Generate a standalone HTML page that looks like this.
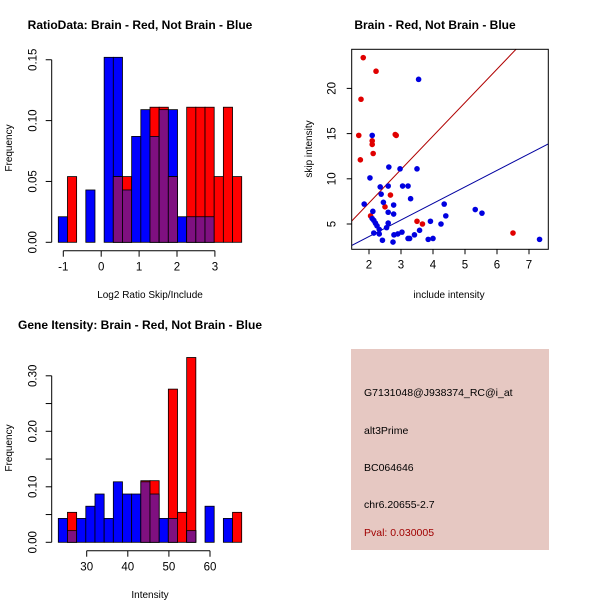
<!DOCTYPE html>
<html><head><meta charset="utf-8"><style>
body{margin:0;background:#fff;}
svg{display:block;font-family:"Liberation Sans",sans-serif;}
</style></head><body>
<svg id="c" width="600" height="600" xmlns="http://www.w3.org/2000/svg">
<rect x="351" y="349" width="198" height="201" fill="#e6c8c2"/>
<g font-size="10.5" fill="#000">
<text x="364" y="396">G7131048@J938374_RC@i_at</text>
<text x="364" y="434">alt3Prime</text>
<text x="364" y="471">BC064646</text>
<text x="364" y="508">chr6.20655-2.7</text>
<text x="364" y="536" fill="#a00000">Pval: 0.030005</text>
</g>
</svg>
<script>
// Histogram 1 (ratio)
const h1Blue=[0.021,0,0,0.043,0,0.152,0.152,0.043,0.087,0.109,0.087,0.109,0.109,0.021,0.021,0.021,0.021,0,0,0];
const h1Red=[0,0.054,0,0,0,0,0.054,0.054,0,0,0.111,0.111,0.054,0,0.111,0.111,0.111,0.054,0.111,0.054];
const h1XTicks=[-1,0,1,2,3];
const h1YTicks=[0,0.05,0.10,0.15];
// Histogram 2 (intensity)
const h2Blue=[0.043,0.021,0.043,0.065,0.087,0.043,0.109,0.087,0.087,0.109,0.087,0.043,0.043,0,0.021,0,0.065,0,0.043,0];
const h2Red=[0,0.054,0,0,0,0,0,0,0,0.111,0.111,0,0.276,0.054,0.333,0,0,0,0,0.054];
const h2XTicks=[30,40,50,60];
const h2YTicks=[0,0.05,0.10,0.15,0.20,0.25,0.30];
const h2YLabels=["0.00","","0.10","","0.20","","0.30"];
// Scatter
const redX=[1.82,2.22,1.75,1.68,2.1,2.1,1.73,2.13,2.82,2.85,2.67,2.5,2.05,3.5,3.67,6.5];
const redY=[23.4,21.9,18.8,14.8,14.2,13.8,12.1,12.8,14.9,14.8,8.2,6.9,5.9,5.3,5.0,4.0];
const blueX=[3.55,2.1,2.62,2.97,3.5,2.03,2.35,2.6,3.05,3.22,2.38,3.3,1.85,2.45,2.77,4.35,2.12,2.6,2.77,5.32,5.53,4.4,2.1,2.15,2.2,2.25,2.6,2.55,2.32,3.92,4.25,3.58,2.15,2.32,2.78,2.9,3.03,3.42,2.42,2.75,3.22,3.27,3.85,4.0,7.33];
const blueY=[21,14.8,11.3,11.1,11.1,10.1,9.1,9.2,9.2,9.2,8.3,7.8,7.2,7.4,7.1,7.2,6.4,6.3,6.1,6.6,6.2,5.9,5.6,5.4,5.1,4.8,5.1,4.6,4.4,5.3,5.0,4.3,4.0,3.9,3.8,3.9,4.1,3.8,3.2,3.0,3.4,3.4,3.3,3.4,3.3];
const redFit=[-0.07,3.7];
const blueFit=[-0.05,1.83];
const scXTicks=[2,3,4,5,6,7];
const scYTicks=[5,10,15,20];

const svg=document.getElementById('c');
const NS='http://www.w3.org/2000/svg';
function mk(tag,attrs,parent){const e=document.createElementNS(NS,tag);for(const k in attrs)e.setAttribute(k,attrs[k]);(parent||svg).appendChild(e);return e;}
function txt(x,y,s,attrs){const e=mk('text',Object.assign({x:x,y:y},attrs||{}));e.textContent=s;return e;}

function hist(opts){
  const g=mk('g',{});
  
  
  const xs=v=>opts.x0px+(v-opts.xref)*opts.xpx;
  const ys=v=>opts.y0px-v*opts.ypx;
  const bw=opts.binPx;
  for(let i=0;i<opts.blue.length;i++){
    const xl=opts.startPx+i*bw, b=opts.blue[i], r=opts.red[i];
    if(b>0){const e=mk('rect',{x:xl,y:ys(b),width:bw,height:ys(0)-ys(b),fill:'#0000ff',stroke:'#000','stroke-width':0.8},g);
      }
    if(r>0){const e=mk('rect',{x:xl,y:ys(r),width:bw,height:ys(0)-ys(r),fill:'#ff0000',stroke:'#000','stroke-width':0.8},g);
      }
    if(b>0&&r>0){const m=Math.min(b,r);const e=mk('rect',{x:xl,y:ys(m),width:bw,height:ys(0)-ys(m),fill:'#7f1080',stroke:'#000','stroke-width':0.8},g);
      }
  }
  const ax=mk('g',{stroke:'#000','stroke-width':1},g);
  
  const t=opts.xticks, ay=opts.xAxisY;
  mk('line',{x1:xs(t[0]),x2:xs(t[t.length-1]),y1:ay,y2:ay},ax);
  t.forEach(v=>{mk('line',{x1:xs(v),x2:xs(v),y1:ay,y2:ay+6},ax);
    const l=txt(xs(v),ay+20,String(v),{'font-size':11.5,'text-anchor':'middle',stroke:'none'});
    });
  const ay2=mk('g',{stroke:'#000','stroke-width':1},g);
  
  const yt=opts.yticks, axx=opts.yAxisX;
  mk('line',{x1:axx,x2:axx,y1:ys(yt[0]),y2:ys(yt[yt.length-1])},ay2);
  yt.forEach((v,i)=>{mk('line',{x1:axx,x2:axx-6,y1:ys(v),y2:ys(v)},ay2);
    const s=opts.ylabels?opts.ylabels[i]:v.toFixed(2);
    const xx=axx-15;
    if(s){const l=txt(xx,ys(v),s,{'font-size':11.5,'text-anchor':'middle',stroke:'none',transform:`rotate(-90 ${xx} ${ys(v)})`});
      }});
}
hist({name:'ratio-histogram',blue:h1Blue,red:h1Red,x0px:63.3,xref:-1,xpx:37.9,y0px:242.3,ypx:1217,startPx:58.3,binPx:9.17,xticks:h1XTicks,yticks:h1YTicks,xAxisY:250.7,yAxisX:51.7});
hist({name:'intensity-histogram',blue:h2Blue,red:h2Red,x0px:86.7,xref:30,xpx:4.11,y0px:542.3,ypx:555,startPx:58.3,binPx:9.17,xticks:h2XTicks,yticks:h2YTicks,ylabels:h2YLabels,xAxisY:550.7,yAxisX:51.7});

const sx=v=>369+(v-2)*32, sy=v=>224-(v-5)*9.04;
const box={l:351.7,r:548.3,t:49.3,b:249.3};
const sg=mk('g',{});

mk('defs',{}).innerHTML='<clipPath id="clp"><rect x="351.7" y="49.3" width="196.6" height="200"/></clipPath>';
function fitLine(f,col,name){
  const x1=1.4,x2=7.7;
  const e=mk('line',{x1:sx(x1),y1:sy(f[0]+f[1]*x1),x2:sx(x2),y2:sy(f[0]+f[1]*x2),stroke:col,'stroke-width':1,'clip-path':'url(#clp)'},sg);
  
}
fitLine(redFit,'#b00000','red-fit-line');
fitLine(blueFit,'#0000a0','blue-fit-line');
redX.forEach((x,i)=>{const e=mk('circle',{cx:sx(x),cy:sy(redY[i]),r:2.8,fill:'#e00000'},sg);
  });
blueX.forEach((x,i)=>{const e=mk('circle',{cx:sx(x),cy:sy(blueY[i]),r:2.8,fill:'#0000e0'},sg);
  });
const fr=mk('rect',{x:box.l,y:box.t,width:box.r-box.l,height:box.b-box.t,fill:'none',stroke:'#000','stroke-width':1},sg);

scXTicks.forEach(v=>{mk('line',{x1:sx(v),x2:sx(v),y1:box.b,y2:box.b+5,stroke:'#000'},sg);
  const l=txt(sx(v),box.b+19,String(v),{'font-size':11.5,'text-anchor':'middle'});
  });
scYTicks.forEach(v=>{mk('line',{x1:box.l,x2:box.l-5,y1:sy(v),y2:sy(v),stroke:'#000'},sg);
  const xx=box.l-16;const l=txt(xx,sy(v),String(v),{'font-size':11.5,'text-anchor':'middle',transform:`rotate(-90 ${xx} ${sy(v)})`});
  });

function lab(x,y,s,name,attrs){const e=txt(x,y,s,attrs);}
lab(140,29,'RatioData: Brain - Red, Not Brain - Blue','title-ratio',{'font-size':12,'font-weight':'bold','text-anchor':'middle'});
lab(435,29,'Brain - Red, Not Brain - Blue','title-scatter',{'font-size':12,'font-weight':'bold','text-anchor':'middle'});
lab(140,329,'Gene Itensity: Brain - Red, Not Brain - Blue','title-intensity',{'font-size':12,'font-weight':'bold','text-anchor':'middle'});
lab(150,298,'Log2 Ratio Skip/Include','x-axis-title-ratio',{'font-size':10,'text-anchor':'middle'});
lab(449,298,'include intensity','x-axis-title-scatter',{'font-size':10,'text-anchor':'middle'});
lab(150,598,'Intensity','x-axis-title-intensity',{'font-size':10,'text-anchor':'middle'});
lab(12,148,'Frequency','y-axis-title-ratio',{'font-size':10,'text-anchor':'middle',transform:'rotate(-90 12 148)'});
lab(12,448,'Frequency','y-axis-title-intensity',{'font-size':10,'text-anchor':'middle',transform:'rotate(-90 12 448)'});
lab(312,149,'skip intensity','y-axis-title-scatter',{'font-size':10,'text-anchor':'middle',transform:'rotate(-90 312 149)'});
</script>
</body></html>
